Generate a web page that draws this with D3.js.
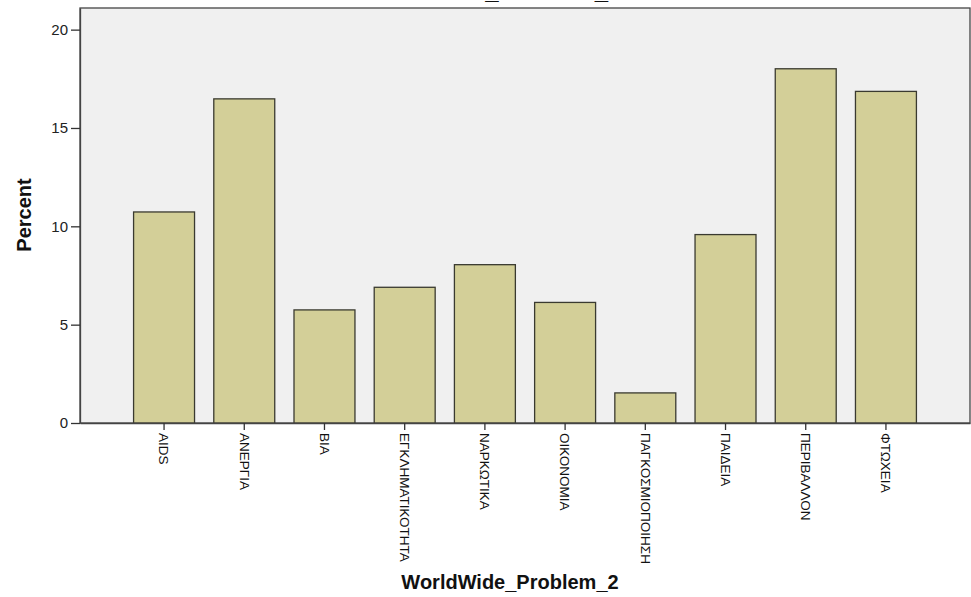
<!DOCTYPE html>
<html>
<head>
<meta charset="utf-8">
<script src="https://cdn.jsdelivr.net/npm/d3@7"></script>
<style>
  html, body { margin: 0; padding: 0; background: #ffffff; }
  svg { display: block; }
</style>
</head>
<body>
<svg id="chart" width="971" height="597"></svg>
<script>
const categories = ["AIDS", "ΑΝΕΡΓΙΑ", "ΒΙΑ", "ΕΓΚΛΗΜΑΤΙΚΟΤΗΤΑ", "ΝΑΡΚΩΤΙΚΑ", "ΟΙΚΟΝΟΜΙΑ", "ΠΑΓΚΟΣΜΙΟΠΟΙΗΣΗ", "ΠΑΙΔΕΙΑ", "ΠΕΡΙΒΑΛΛΟΝ", "ΦΤΩΧΕΙΑ"];
const percents = [10.73, 16.48, 5.75, 6.90, 8.05, 6.13, 1.53, 9.58, 18.01, 16.86];
const yTicks = [0, 5, 10, 15, 20];
const chartTitle = "WorldWide_Problem_2";
const xTitle = "WorldWide_Problem_2";
const yTitle = "Percent";

const svg = d3.select("#chart");
const plot = { left: 80, top: 8, right: 970, bottom: 423 };

const x = d3.scaleBand()
  .domain(categories)
  .range([plot.left, plot.right])
  .paddingInner(0.24)
  .paddingOuter(0.668);

const y = d3.scaleLinear()
  .domain([0, 21.1])
  .range([plot.bottom, plot.top]);

// top title (cropped by the top edge, as in the original picture)
svg.append("text")
  .attr("x", 491)
  .attr("y", -1)
  .attr("text-anchor", "middle")
  .attr("font-family", "Liberation Sans, Arial, sans-serif")
  .attr("font-weight", "bold")
  .attr("font-size", 24)
  .attr("fill", "#111")
  .text(chartTitle);

// plot background
svg.append("rect")
  .attr("x", plot.left)
  .attr("y", plot.top)
  .attr("width", plot.right - plot.left)
  .attr("height", plot.bottom - plot.top)
  .attr("fill", "#f0f0f0")
  .attr("stroke", "#444")
  .attr("stroke-width", 1.3);

// bars
svg.append("g")
  .selectAll("rect")
  .data(categories.map((c, i) => ({ c, v: percents[i] })))
  .join("rect")
  .attr("x", d => x(d.c))
  .attr("y", d => y(d.v))
  .attr("width", x.bandwidth())
  .attr("height", d => y(0) - y(d.v))
  .attr("fill", "#d3cf98")
  .attr("stroke", "#3a3a30")
  .attr("stroke-width", 1.3);

// y axis
const yAxis = svg.append("g")
  .attr("transform", `translate(${plot.left},0)`)
  .call(d3.axisLeft(y).tickValues(yTicks).tickSize(9).tickSizeOuter(0).tickPadding(3).tickFormat(d3.format("d")));
yAxis.select(".domain").attr("stroke", "#444").attr("stroke-width", 1.3);
yAxis.selectAll(".tick line").attr("stroke", "#333").attr("stroke-width", 1.3);
yAxis.selectAll(".tick text")
  .attr("font-family", "Liberation Sans, Arial, sans-serif")
  .attr("font-size", 15)
  .attr("fill", "#222");

// x axis
const xAxis = svg.append("g")
  .attr("transform", `translate(0,${plot.bottom})`)
  .call(d3.axisBottom(x).tickSize(7).tickSizeOuter(0).tickPadding(0));
xAxis.select(".domain").attr("stroke", "#444").attr("stroke-width", 1.3);
xAxis.selectAll(".tick line").attr("stroke", "#333").attr("stroke-width", 1.3);
xAxis.selectAll(".tick text")
  .attr("font-family", "Liberation Sans, Arial, sans-serif")
  .attr("font-size", 13.5)
  .attr("fill", "#111")
  .attr("transform", "rotate(90)")
  .attr("text-anchor", "start")
  .attr("dy", "0.35em")
  .attr("x", 10)
  .attr("y", 0);

// axis titles
svg.append("text")
  .attr("x", 510)
  .attr("y", 589)
  .attr("text-anchor", "middle")
  .attr("font-family", "Liberation Sans, Arial, sans-serif")
  .attr("font-weight", "bold")
  .attr("font-size", 20)
  .attr("fill", "#111")
  .text(xTitle);

svg.append("text")
  .attr("transform", "translate(31,215) rotate(-90)")
  .attr("text-anchor", "middle")
  .attr("font-family", "Liberation Sans, Arial, sans-serif")
  .attr("font-weight", "bold")
  .attr("font-size", 20)
  .attr("fill", "#111")
  .text(yTitle);
</script>
</body>
</html>
